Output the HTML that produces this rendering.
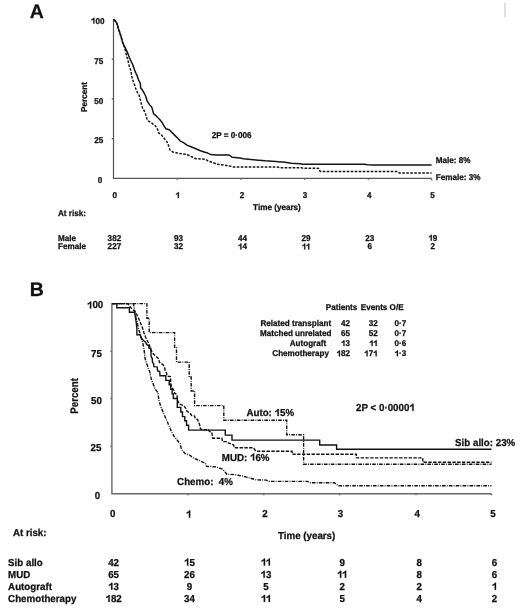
<!DOCTYPE html>
<html><head><meta charset="utf-8"><style>
html,body{margin:0;padding:0;background:#fff;}
svg{display:block;will-change:transform;}
text{font-family:"Liberation Sans",sans-serif;font-weight:bold;fill:#111;stroke:#111;stroke-width:0.25px;text-rendering:geometricPrecision;}
.o{fill:transparent;stroke:transparent;}
.g1{fill:#111;stroke:#111;stroke-width:0.25px;vector-effect:non-scaling-stroke;}
</style></head><body>
<svg width="520" height="610" viewBox="0 0 520 610">
<rect width="520" height="610" fill="#fff"/>
<line x1="505" y1="2.8" x2="505" y2="17.3" stroke="#d2d2d2" stroke-width="1.4"/>
<g stroke="#555" stroke-width="1.2" fill="none">
<polyline points="113.5,19.3 113.5,178.4 431.7,178.4"/>
<path d="M111.8,59.1h1.7 M111.8,98.9h1.7 M111.8,138.7h1.7 M177.2,178.4v1.3 M240.9,178.4v1.3 M304.6,178.4v1.3 M368.3,178.4v1.3 M431.7,178.4v1.8"/>
</g>
<g fill="none" stroke="#151515" stroke-width="1.5" stroke-linejoin="round">
<polyline points="113.5,19.5 114.6,20.2 116.3,22.3 117.5,25.2 118.4,28.7 119.8,32.7 121.3,37.4 122.3,41.4 123.6,44.9 124.6,46.6 127.2,51.8 129.8,58.7 132.7,64.5 134.6,70.0 135.8,72.9 137.2,75.8 138.4,79.8 139.8,82.1 140.4,84.4 140.7,87.9 142.1,89.6 143.8,92.5 145.6,96.0 146.7,99.4 147.2,101.2 149.5,104.7 151.8,107.3 152.7,110.4 153.6,113.9 156.5,116.2 159.9,119.7 162.4,122.9 163.5,125.2 165.8,128.7 169.3,129.8 171.6,132.1 175.1,135.6 178.0,138.5 180.3,141.1 183.5,142.7 187.3,145.4 190.4,146.5 195.8,148.8 200.4,150.8 205.0,152.3 206.9,152.7 210.8,154.6 216.2,155.0 229.2,155.0 232.3,157.3 240.0,158.1 243.5,158.8 255.8,159.9 265.0,160.8 275.8,161.5 285.0,162.2 291.2,163.2 300.4,163.8 302.7,164.2 364.6,164.2 367.3,164.7 373.1,165.0 431.6,165.0"/>
<polyline points="113.5,19.5 114.6,20.2 116.3,22.3 117.5,25.2 118.4,28.7 119.8,32.7 121.3,37.4 122.3,41.4 123.6,44.9 124.3,46.6 125.8,52.4 126.9,57.0 128.4,62.2 129.5,67.4 130.9,70.5 131.4,74.6 132.3,78.7 133.5,82.1 134.6,85.0 135.5,87.9 136.3,90.2 137.8,93.1 139.2,95.4 140.1,98.9 140.6,100.6 141.5,104.7 142.6,108.1 144.3,111.0 145.5,113.9 146.4,116.8 147.2,119.7 149.0,121.4 151.8,123.1 153.9,124.9 155.5,125.8 157.8,129.8 158.9,133.3 161.2,134.4 162.7,136.7 164.7,139.0 167.0,141.9 168.2,144.8 169.3,148.3 170.2,150.2 172.7,151.9 177.3,153.1 181.9,153.8 186.5,154.2 189.6,155.8 192.7,157.3 195.8,158.7 198.8,158.8 205.4,159.2 208.5,161.2 212.3,162.3 216.9,164.2 223.1,165.0 227.7,165.8 232.3,166.5 233.5,167.1 277.3,167.1 280.4,167.8 301.9,167.8 302.7,168.2 318.2,168.2 320.2,171.5 397.3,171.5 399.3,172.9 431.6,172.9" stroke-dasharray="2.6 1.4"/>
</g>
<g stroke="#666" stroke-width="1.4" fill="none">
<polyline points="111.9,303.6 111.9,493.8 491.5,493.8"/>
<path d="M110.2,351.1h1.7 M110.2,398.6h1.7 M110.2,446.1h1.7 M187.9,493.8v1.4 M263.8,493.8v1.4 M339.7,493.8v1.4 M416,493.8v1.4 M491.5,493.8v1.4"/>
</g>
<g fill="none" stroke="#111" stroke-width="1.4">
<polyline points="111.9,303.6 116.8,303.6 116.8,307.8 129.4,307.8 129.4,312.3 134.6,312.3 135.2,316.0 136.0,321.0 136.6,326.0 136.9,329.5 136.9,334.7 140.1,334.7 141.5,338.5 143.5,340.5 145.6,342.3 146.7,344.6 148.8,345.5 148.8,347.9 150.8,348.5 151.1,356.5 152.2,358.3 152.5,362.3 153.7,364.0 153.9,366.6 157.1,366.9 157.7,371.0 159.7,371.5 160.0,375.8 165.8,375.8 165.8,380.4 169.2,380.4 169.2,384.7 170.7,384.7 170.7,389.3 172.1,389.3 172.1,393.9 173.3,393.9 173.3,398.5 177.3,398.5 177.3,407.4 180.8,407.4 180.8,412.0 182.5,412.0 182.5,416.6 184.8,416.6 184.8,420.7 186.5,420.7 186.5,425.3 188.6,425.3 188.6,430.1 225.3,430.1 225.3,435.1 232.0,435.1 232.0,440.1 319.7,440.1 319.7,445.0 336.6,445.0 336.6,449.3 491.5,449.3"/>
<polyline points="111.9,303.6 127.8,303.6 129.5,306.0 132.0,309.0 134.5,311.0 136.5,314.0 138.5,318.0 140.5,323.0 142.5,328.0 144.0,333.0 145.5,337.0 147.0,340.0 148.5,343.0 150.0,346.9 150.8,349.2 152.5,353.0 155.4,356.0 158.8,358.8 159.4,362.3 162.9,364.6 164.6,367.5 165.2,370.4 166.4,372.7 166.9,375.0 167.2,376.0 170.4,376.6 170.7,380.1 170.7,384.0 171.5,385.8 172.4,388.2 174.1,390.5 174.7,393.4 176.7,394.2 177.3,397.4 177.3,400.0 179.3,404.0 183.5,405.5 186.0,408.5 187.1,411.4 190.0,413.2 191.7,415.5 194.6,416.0 195.2,418.4 197.5,419.5 198.7,422.4 199.8,425.3 200.4,428.7 202.1,429.6 208.5,429.6 209.4,431.5 211.8,432.4 212.8,438.2 221.9,438.2 222.5,441.6 226.7,441.6 228.2,443.0 233.5,444.9 234.4,447.8 253.5,447.8 255.8,451.2 292.1,451.2 292.1,454.2 356.3,454.2 356.3,457.9 422.8,457.9 422.8,462.2 491.5,462.2" stroke-dasharray="3.4 1.4"/>
<polyline points="111.9,303.6 146.9,303.6 146.9,318.2 149.2,318.2 149.2,332.6 174.6,332.6 174.6,347.3 176.5,347.3 176.5,362.1 189.2,362.1 189.2,377.0 191.2,377.0 191.2,391.0 194.6,391.0 194.6,405.6 223.8,405.6 223.8,420.2 286.7,420.2 286.7,434.7 303.6,434.7 303.6,464.2 491.5,464.2" stroke-dasharray="3.6 1.2 0.9 1.2"/>
<polyline points="111.9,303.6 133.3,303.6 134.2,308.0 134.8,312.0 136.0,318.0 137.5,324.0 139.0,330.0 140.5,335.0 141.8,339.5 143.0,344.0 143.8,348.0 144.5,353.0 145.0,358.3 146.7,363.5 148.5,368.7 149.9,372.1 150.5,375.6 151.3,379.0 155.0,388.7 157.9,392.7 159.0,400.8 160.8,406.5 164.2,414.6 167.7,422.7 170.6,429.6 173.7,435.8 176.5,439.2 180.0,443.8 181.7,449.6 185.2,453.7 189.2,454.8 193.8,458.3 199.6,460.6 205.4,463.5 206.5,466.3 215.8,466.9 222.7,469.2 226.9,474.2 235.4,474.7 243.1,476.2 249.2,477.8 256.2,479.9 266.2,480.1 269.2,481.4 307.5,481.4 309.4,482.7 334.4,482.7 338.3,485.8 491.5,485.8" stroke-dasharray="3.6 1.2 0.9 1.2"/>
</g>
<text transform="translate(29.8,18.4) scale(1,1.0)" font-size="19.5">A</text>
<text transform="translate(29.8,295.8) scale(1,1.0)" font-size="19.5">B</text>
<text transform="translate(104.5,23.6) scale(1,1.04)" font-size="8.15" text-anchor="end"><tspan class="o">1</tspan>00</text>
<text transform="translate(103.2,63.7) scale(1,1.04)" font-size="8.15" text-anchor="end">75</text>
<text transform="translate(103.2,103.7) scale(1,1.04)" font-size="8.15" text-anchor="end">50</text>
<text transform="translate(103.2,143.2) scale(1,1.04)" font-size="8.15" text-anchor="end">25</text>
<text transform="translate(102.4,182.8) scale(1,1.04)" font-size="8.15" text-anchor="end">0</text>
<text transform="translate(87.3,97) rotate(-90) scale(1,1.04)" font-size="8.15" text-anchor="middle">Percent</text>
<text transform="translate(114.8,198) scale(1,1.04)" font-size="8.15" text-anchor="middle">0</text>
<text transform="translate(177.6,198) scale(1,1.04)" font-size="8.15" text-anchor="middle"><tspan class="o">1</tspan></text>
<text transform="translate(242,198) scale(1,1.04)" font-size="8.15" text-anchor="middle">2</text>
<text transform="translate(305,198) scale(1,1.04)" font-size="8.15" text-anchor="middle">3</text>
<text transform="translate(369.3,198) scale(1,1.04)" font-size="8.15" text-anchor="middle">4</text>
<text transform="translate(432.5,198) scale(1,1.04)" font-size="8.15" text-anchor="middle">5</text>
<text transform="translate(253.1,210) scale(1,1.04)" font-size="8.15">Time (years)</text>
<text transform="translate(211.8,138) scale(1,1.04)" font-size="8.15">2P = 0·006</text>
<text transform="translate(435.7,163.4) scale(1,1.04)" font-size="8.15">Male: 8%</text>
<text transform="translate(435.7,179.9) scale(1,1.04)" font-size="8.15">Female: 3%</text>
<text transform="translate(58,215.7) scale(1,1.04)" font-size="8.15">At risk:</text>
<text transform="translate(58,240.7) scale(1,1.04)" font-size="8.15">Male</text>
<text transform="translate(58,249.4) scale(1,1.04)" font-size="8.15">Female</text>
<text transform="translate(114.4,240.7) scale(1,1.04)" font-size="8.15" text-anchor="middle">382</text>
<text transform="translate(114.4,249.4) scale(1,1.04)" font-size="8.15" text-anchor="middle">227</text>
<text transform="translate(178.5,240.7) scale(1,1.04)" font-size="8.15" text-anchor="middle">93</text>
<text transform="translate(178.5,249.4) scale(1,1.04)" font-size="8.15" text-anchor="middle">32</text>
<text transform="translate(242.4,240.7) scale(1,1.04)" font-size="8.15" text-anchor="middle">44</text>
<text transform="translate(242.4,249.4) scale(1,1.04)" font-size="8.15" text-anchor="middle"><tspan class="o">1</tspan>4</text>
<text transform="translate(306,240.7) scale(1,1.04)" font-size="8.15" text-anchor="middle">29</text>
<text transform="translate(306,249.4) scale(1,1.04)" font-size="8.15" text-anchor="middle"><tspan class="o">1</tspan><tspan class="o">1</tspan></text>
<text transform="translate(369.7,240.7) scale(1,1.04)" font-size="8.15" text-anchor="middle">23</text>
<text transform="translate(369.7,249.4) scale(1,1.04)" font-size="8.15" text-anchor="middle">6</text>
<text transform="translate(432.8,240.7) scale(1,1.04)" font-size="8.15" text-anchor="middle"><tspan class="o">1</tspan>9</text>
<text transform="translate(432.8,249.4) scale(1,1.04)" font-size="8.15" text-anchor="middle">2</text>
<text transform="translate(103.3,308.4) scale(1,1.04)" font-size="9.75" text-anchor="end"><tspan class="o">1</tspan>00</text>
<text transform="translate(101.9,356.5) scale(1,1.04)" font-size="9.75" text-anchor="end">75</text>
<text transform="translate(101.9,403.8) scale(1,1.04)" font-size="9.75" text-anchor="end">50</text>
<text transform="translate(101.4,451.4) scale(1,1.04)" font-size="9.75" text-anchor="end">25</text>
<text transform="translate(100.3,498.8) scale(1,1.04)" font-size="9.75" text-anchor="end">0</text>
<text transform="translate(77.9,395.9) rotate(-90) scale(1,1.12)" font-size="9.75" text-anchor="middle">Percent</text>
<text transform="translate(112.8,517.4) scale(1,1.04)" font-size="9.75" text-anchor="middle">0</text>
<text transform="translate(188.7,517.4) scale(1,1.04)" font-size="9.75" text-anchor="middle"><tspan class="o">1</tspan></text>
<text transform="translate(265,517.4) scale(1,1.04)" font-size="9.75" text-anchor="middle">2</text>
<text transform="translate(340.5,517.4) scale(1,1.04)" font-size="9.75" text-anchor="middle">3</text>
<text transform="translate(417.1,517.4) scale(1,1.04)" font-size="9.75" text-anchor="middle">4</text>
<text transform="translate(493,517.4) scale(1,1.04)" font-size="9.75" text-anchor="middle">5</text>
<text transform="translate(278,538.6) scale(1,1.04)" font-size="9.75">Time (years)</text>
<text transform="translate(12.9,535.8) scale(1,1.04)" font-size="9.75">At risk:</text>
<text transform="translate(246.4,416) scale(1,1.04)" font-size="9.75">Auto: <tspan class="o">1</tspan>5%</text>
<text transform="translate(356.1,410.8) scale(1,1.04)" font-size="9.75">2P &lt; 0·0000<tspan class="o">1</tspan></text>
<text transform="translate(455.1,446.2) scale(1,1.04)" font-size="9.75">Sib allo: 23%</text>
<text transform="translate(221.8,460.6) scale(1,1.04)" font-size="9.75">MUD: <tspan class="o">1</tspan>6%</text>
<text transform="translate(177.1,485.3) scale(1,1.04)" font-size="9.75">Chemo:  4%</text>
<text transform="translate(8.1,565.6) scale(1,1.04)" font-size="9.75">Sib allo</text>
<text transform="translate(8.1,577.8) scale(1,1.04)" font-size="9.75">MUD</text>
<text transform="translate(8.1,589.8) scale(1,1.04)" font-size="9.75">Autograft</text>
<text transform="translate(8.1,601.9) scale(1,1.04)" font-size="9.75">Chemotherapy</text>
<text transform="translate(113.6,565.6) scale(1,1.04)" font-size="9.75" text-anchor="middle">42</text>
<text transform="translate(113.6,577.8) scale(1,1.04)" font-size="9.75" text-anchor="middle">65</text>
<text transform="translate(113.6,589.8) scale(1,1.04)" font-size="9.75" text-anchor="middle"><tspan class="o">1</tspan>3</text>
<text transform="translate(113.6,601.9) scale(1,1.04)" font-size="9.75" text-anchor="middle"><tspan class="o">1</tspan>82</text>
<text transform="translate(189.5,565.6) scale(1,1.04)" font-size="9.75" text-anchor="middle"><tspan class="o">1</tspan>5</text>
<text transform="translate(189.5,577.8) scale(1,1.04)" font-size="9.75" text-anchor="middle">26</text>
<text transform="translate(189.5,589.8) scale(1,1.04)" font-size="9.75" text-anchor="middle">9</text>
<text transform="translate(189.5,601.9) scale(1,1.04)" font-size="9.75" text-anchor="middle">34</text>
<text transform="translate(266,565.6) scale(1,1.04)" font-size="9.75" text-anchor="middle"><tspan class="o">1</tspan><tspan class="o">1</tspan></text>
<text transform="translate(266,577.8) scale(1,1.04)" font-size="9.75" text-anchor="middle"><tspan class="o">1</tspan>3</text>
<text transform="translate(266,589.8) scale(1,1.04)" font-size="9.75" text-anchor="middle">5</text>
<text transform="translate(266,601.9) scale(1,1.04)" font-size="9.75" text-anchor="middle"><tspan class="o">1</tspan><tspan class="o">1</tspan></text>
<text transform="translate(342.2,565.6) scale(1,1.04)" font-size="9.75" text-anchor="middle">9</text>
<text transform="translate(342.2,577.8) scale(1,1.04)" font-size="9.75" text-anchor="middle"><tspan class="o">1</tspan><tspan class="o">1</tspan></text>
<text transform="translate(342.2,589.8) scale(1,1.04)" font-size="9.75" text-anchor="middle">2</text>
<text transform="translate(342.2,601.9) scale(1,1.04)" font-size="9.75" text-anchor="middle">5</text>
<text transform="translate(419.2,565.6) scale(1,1.04)" font-size="9.75" text-anchor="middle">8</text>
<text transform="translate(419.2,577.8) scale(1,1.04)" font-size="9.75" text-anchor="middle">8</text>
<text transform="translate(419.2,589.8) scale(1,1.04)" font-size="9.75" text-anchor="middle">2</text>
<text transform="translate(419.2,601.9) scale(1,1.04)" font-size="9.75" text-anchor="middle">4</text>
<text transform="translate(494.5,565.6) scale(1,1.04)" font-size="9.75" text-anchor="middle">6</text>
<text transform="translate(494.5,577.8) scale(1,1.04)" font-size="9.75" text-anchor="middle">6</text>
<text transform="translate(494.5,589.8) scale(1,1.04)" font-size="9.75" text-anchor="middle"><tspan class="o">1</tspan></text>
<text transform="translate(494.5,601.9) scale(1,1.04)" font-size="9.75" text-anchor="middle">2</text>
<text transform="translate(325.8,310.4) scale(1,1.04)" font-size="8.1">Patients</text>
<text transform="translate(360.8,310.4) scale(1,1.04)" font-size="8.1">Events</text>
<text transform="translate(389.6,310.4) scale(1,1.04)" font-size="8.1">O/E</text>
<text transform="translate(260.5,325.9) scale(1,1.04)" font-size="8.1">Related transplant</text>
<text transform="translate(260,336) scale(1,1.04)" font-size="8.1">Matched unrelated</text>
<text transform="translate(289.7,346.1) scale(1,1.04)" font-size="8.1">Autograft</text>
<text transform="translate(272.3,356.3) scale(1,1.04)" font-size="8.1">Chemotherapy</text>
<text transform="translate(350,325.9) scale(1,1.04)" font-size="8.1" text-anchor="end">42</text>
<text transform="translate(350,336) scale(1,1.04)" font-size="8.1" text-anchor="end">65</text>
<text transform="translate(350,346.1) scale(1,1.04)" font-size="8.1" text-anchor="end"><tspan class="o">1</tspan>3</text>
<text transform="translate(350,356.3) scale(1,1.04)" font-size="8.1" text-anchor="end"><tspan class="o">1</tspan>82</text>
<text transform="translate(377.7,325.9) scale(1,1.04)" font-size="8.1" text-anchor="end">32</text>
<text transform="translate(377.7,336) scale(1,1.04)" font-size="8.1" text-anchor="end">52</text>
<text transform="translate(377.7,346.1) scale(1,1.04)" font-size="8.1" text-anchor="end"><tspan class="o">1</tspan><tspan class="o">1</tspan></text>
<text transform="translate(377.7,356.3) scale(1,1.04)" font-size="8.1" text-anchor="end"><tspan class="o">1</tspan>7<tspan class="o">1</tspan></text>
<text transform="translate(406.2,325.9) scale(1,1.04)" font-size="8.1" text-anchor="end">0·7</text>
<text transform="translate(406.2,336) scale(1,1.04)" font-size="8.1" text-anchor="end">0·7</text>
<text transform="translate(406.2,346.1) scale(1,1.04)" font-size="8.1" text-anchor="end">0·6</text>
<text transform="translate(406.2,356.3) scale(1,1.04)" font-size="8.1" text-anchor="end"><tspan class="o">1</tspan>·3</text>
<!--ONES--><path class="g1" transform="translate(104.5,23.6) scale(1,1.04) translate(-13.58,0.00) scale(0.003979,-0.003979)" d="M891 0L611 0L611 1012C509 921 389 853 151 777L151 1022C276 1061 412 1131 513 1213C590 1275 634 1341 652 1409L891 1409Z"/>
<path class="g1" transform="translate(177.6,198) scale(1,1.04) translate(-2.27,0.00) scale(0.003979,-0.003979)" d="M891 0L611 0L611 1012C509 921 389 853 151 777L151 1022C276 1061 412 1131 513 1213C590 1275 634 1341 652 1409L891 1409Z"/>
<path class="g1" transform="translate(242.4,249.4) scale(1,1.04) translate(-4.53,0.00) scale(0.003979,-0.003979)" d="M891 0L611 0L611 1012C509 921 389 853 151 777L151 1022C276 1061 412 1131 513 1213C590 1275 634 1341 652 1409L891 1409Z"/>
<path class="g1" transform="translate(306,249.4) scale(1,1.04) translate(-4.30,0.00) scale(0.003979,-0.003979)" d="M891 0L611 0L611 1012C509 921 389 853 151 777L151 1022C276 1061 412 1131 513 1213C590 1275 634 1341 652 1409L891 1409Z"/>
<path class="g1" transform="translate(306,249.4) scale(1,1.04) translate(-0.23,0.00) scale(0.003979,-0.003979)" d="M891 0L611 0L611 1012C509 921 389 853 151 777L151 1022C276 1061 412 1131 513 1213C590 1275 634 1341 652 1409L891 1409Z"/>
<path class="g1" transform="translate(432.8,240.7) scale(1,1.04) translate(-4.53,0.00) scale(0.003979,-0.003979)" d="M891 0L611 0L611 1012C509 921 389 853 151 777L151 1022C276 1061 412 1131 513 1213C590 1275 634 1341 652 1409L891 1409Z"/>
<path class="g1" transform="translate(103.3,308.4) scale(1,1.04) translate(-16.30,0.00) scale(0.004761,-0.004761)" d="M891 0L611 0L611 1012C509 921 389 853 151 777L151 1022C276 1061 412 1131 513 1213C590 1275 634 1341 652 1409L891 1409Z"/>
<path class="g1" transform="translate(188.7,517.4) scale(1,1.04) translate(-2.72,0.00) scale(0.004761,-0.004761)" d="M891 0L611 0L611 1012C509 921 389 853 151 777L151 1022C276 1061 412 1131 513 1213C590 1275 634 1341 652 1409L891 1409Z"/>
<path class="g1" transform="translate(246.4,416) scale(1,1.04) translate(28.16,0.00) scale(0.004761,-0.004761)" d="M891 0L611 0L611 1012C509 921 389 853 151 777L151 1022C276 1061 412 1131 513 1213C590 1275 634 1341 652 1409L891 1409Z"/>
<path class="g1" transform="translate(356.1,410.8) scale(1,1.04) translate(53.23,0.00) scale(0.004761,-0.004761)" d="M891 0L611 0L611 1012C509 921 389 853 151 777L151 1022C276 1061 412 1131 513 1213C590 1275 634 1341 652 1409L891 1409Z"/>
<path class="g1" transform="translate(221.8,460.6) scale(1,1.04) translate(28.17,0.00) scale(0.004761,-0.004761)" d="M891 0L611 0L611 1012C509 921 389 853 151 777L151 1022C276 1061 412 1131 513 1213C590 1275 634 1341 652 1409L891 1409Z"/>
<path class="g1" transform="translate(113.6,589.8) scale(1,1.04) translate(-5.44,0.00) scale(0.004761,-0.004761)" d="M891 0L611 0L611 1012C509 921 389 853 151 777L151 1022C276 1061 412 1131 513 1213C590 1275 634 1341 652 1409L891 1409Z"/>
<path class="g1" transform="translate(113.6,601.9) scale(1,1.04) translate(-8.15,0.00) scale(0.004761,-0.004761)" d="M891 0L611 0L611 1012C509 921 389 853 151 777L151 1022C276 1061 412 1131 513 1213C590 1275 634 1341 652 1409L891 1409Z"/>
<path class="g1" transform="translate(189.5,565.6) scale(1,1.04) translate(-5.44,0.00) scale(0.004761,-0.004761)" d="M891 0L611 0L611 1012C509 921 389 853 151 777L151 1022C276 1061 412 1131 513 1213C590 1275 634 1341 652 1409L891 1409Z"/>
<path class="g1" transform="translate(266,565.6) scale(1,1.04) translate(-5.16,0.00) scale(0.004761,-0.004761)" d="M891 0L611 0L611 1012C509 921 389 853 151 777L151 1022C276 1061 412 1131 513 1213C590 1275 634 1341 652 1409L891 1409Z"/>
<path class="g1" transform="translate(266,565.6) scale(1,1.04) translate(-0.27,0.00) scale(0.004761,-0.004761)" d="M891 0L611 0L611 1012C509 921 389 853 151 777L151 1022C276 1061 412 1131 513 1213C590 1275 634 1341 652 1409L891 1409Z"/>
<path class="g1" transform="translate(266,577.8) scale(1,1.04) translate(-5.44,0.00) scale(0.004761,-0.004761)" d="M891 0L611 0L611 1012C509 921 389 853 151 777L151 1022C276 1061 412 1131 513 1213C590 1275 634 1341 652 1409L891 1409Z"/>
<path class="g1" transform="translate(266,601.9) scale(1,1.04) translate(-5.16,0.00) scale(0.004761,-0.004761)" d="M891 0L611 0L611 1012C509 921 389 853 151 777L151 1022C276 1061 412 1131 513 1213C590 1275 634 1341 652 1409L891 1409Z"/>
<path class="g1" transform="translate(266,601.9) scale(1,1.04) translate(-0.27,0.00) scale(0.004761,-0.004761)" d="M891 0L611 0L611 1012C509 921 389 853 151 777L151 1022C276 1061 412 1131 513 1213C590 1275 634 1341 652 1409L891 1409Z"/>
<path class="g1" transform="translate(342.2,577.8) scale(1,1.04) translate(-5.16,0.00) scale(0.004761,-0.004761)" d="M891 0L611 0L611 1012C509 921 389 853 151 777L151 1022C276 1061 412 1131 513 1213C590 1275 634 1341 652 1409L891 1409Z"/>
<path class="g1" transform="translate(342.2,577.8) scale(1,1.04) translate(-0.27,0.00) scale(0.004761,-0.004761)" d="M891 0L611 0L611 1012C509 921 389 853 151 777L151 1022C276 1061 412 1131 513 1213C590 1275 634 1341 652 1409L891 1409Z"/>
<path class="g1" transform="translate(494.5,589.8) scale(1,1.04) translate(-2.72,0.00) scale(0.004761,-0.004761)" d="M891 0L611 0L611 1012C509 921 389 853 151 777L151 1022C276 1061 412 1131 513 1213C590 1275 634 1341 652 1409L891 1409Z"/>
<path class="g1" transform="translate(350,346.1) scale(1,1.04) translate(-9.03,0.00) scale(0.003955,-0.003955)" d="M891 0L611 0L611 1012C509 921 389 853 151 777L151 1022C276 1061 412 1131 513 1213C590 1275 634 1341 652 1409L891 1409Z"/>
<path class="g1" transform="translate(350,356.3) scale(1,1.04) translate(-13.53,0.00) scale(0.003955,-0.003955)" d="M891 0L611 0L611 1012C509 921 389 853 151 777L151 1022C276 1061 412 1131 513 1213C590 1275 634 1341 652 1409L891 1409Z"/>
<path class="g1" transform="translate(377.7,346.1) scale(1,1.04) translate(-8.58,0.00) scale(0.003955,-0.003955)" d="M891 0L611 0L611 1012C509 921 389 853 151 777L151 1022C276 1061 412 1131 513 1213C590 1275 634 1341 652 1409L891 1409Z"/>
<path class="g1" transform="translate(377.7,346.1) scale(1,1.04) translate(-4.52,0.00) scale(0.003955,-0.003955)" d="M891 0L611 0L611 1012C509 921 389 853 151 777L151 1022C276 1061 412 1131 513 1213C590 1275 634 1341 652 1409L891 1409Z"/>
<path class="g1" transform="translate(377.7,356.3) scale(1,1.04) translate(-13.55,0.00) scale(0.003955,-0.003955)" d="M891 0L611 0L611 1012C509 921 389 853 151 777L151 1022C276 1061 412 1131 513 1213C590 1275 634 1341 652 1409L891 1409Z"/>
<path class="g1" transform="translate(377.7,356.3) scale(1,1.04) translate(-4.52,0.00) scale(0.003955,-0.003955)" d="M891 0L611 0L611 1012C509 921 389 853 151 777L151 1022C276 1061 412 1131 513 1213C590 1275 634 1341 652 1409L891 1409Z"/>
<path class="g1" transform="translate(406.2,356.3) scale(1,1.04) translate(-11.72,0.00) scale(0.003955,-0.003955)" d="M891 0L611 0L611 1012C509 921 389 853 151 777L151 1022C276 1061 412 1131 513 1213C590 1275 634 1341 652 1409L891 1409Z"/><!--/ONES-->
</svg>
</body></html>
